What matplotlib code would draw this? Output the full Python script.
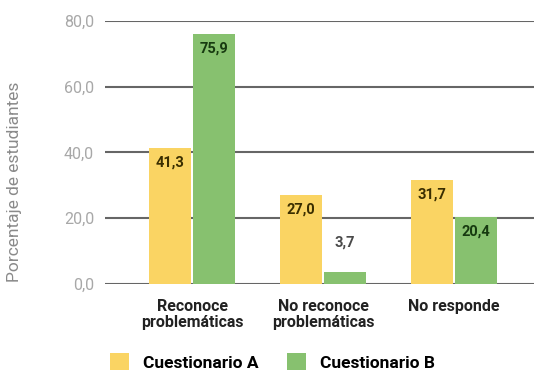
import matplotlib
matplotlib.use("Agg")
import matplotlib.pyplot as plt
import numpy as np

plt.rcParams['font.family'] = ['Roboto', 'DejaVu Sans']

categories = ["Reconoce\nproblemáticas", "No reconoce\nproblemáticas", "No responde"]
cuest_a = [41.3, 27.0, 31.7]
cuest_b = [75.9, 3.7, 20.4]
yticks = [0, 20, 40, 60, 80]

yellow = "#FAD463"
green = "#87C16F"

fig = plt.figure(figsize=(5.34, 3.72), dpi=100)
ax = fig.add_axes([0.197, 0.2366, 0.803, 0.707])

x = np.arange(len(categories))
w = 0.32
gap = 0.0076
bars_a = ax.bar(x - w / 2 - gap, cuest_a, w, color=yellow, label="Cuestionario A", zorder=3)
bars_b = ax.bar(x + w / 2 + gap, cuest_b, w, color=green, label="Cuestionario B", zorder=3)

def fmt(v):
    return f"{v:.1f}".replace(".", ",")

lab = dict(ha="center", va="center", fontsize=10.5, fontweight="bold", zorder=4)
for b, v in zip(bars_a, cuest_a):
    ax.text(b.get_x() + b.get_width() / 2, v - 4.4, fmt(v), color="#3a2e00", **lab)
for b, v in zip(bars_b, cuest_b):
    if v > 8:
        ax.text(b.get_x() + b.get_width() / 2, v - 4.4, fmt(v), color="#173a10", **lab)
    else:
        # short bar: value sits above it
        ax.text(b.get_x() + b.get_width() / 2, v + 8.8, fmt(v), color="#4a4a4a", **lab)

ax.set_ylim(0, 80)
ax.set_xlim(-0.664, 2.61)
ax.set_yticks(yticks)
ax.set_yticklabels([fmt(t) for t in yticks], fontsize=11.5, color="#a8a8a8")
ax.set_xticks(x)
ax.set_xticklabels(categories, fontsize=11.5, fontweight="bold", color="#222222",
                   linespacing=1.1)
ax.tick_params(axis="y", length=0, pad=8)
ax.tick_params(axis="x", length=0, pad=11)
ax.grid(axis="y", color="#666666", linewidth=1.5, zorder=0)
for s in ax.spines.values():
    s.set_visible(False)

ax.set_ylabel("Porcentaje de estudiantes", fontsize=12.5, color="#8a8a8a")
ax.yaxis.set_label_coords(-0.195, 0.39)

fig.legend(handles=[bars_a, bars_b], labels=["Cuestionario A", "Cuestionario B"],
           loc="center left", bbox_to_anchor=(0.19, 0.027), ncol=2, frameon=False,
           prop={"weight": "bold", "size": 12.5}, handlelength=1.1,
           handleheight=1.1, columnspacing=1.6, handletextpad=0.8, borderpad=0)

fig.savefig("out.png", dpi=100)
